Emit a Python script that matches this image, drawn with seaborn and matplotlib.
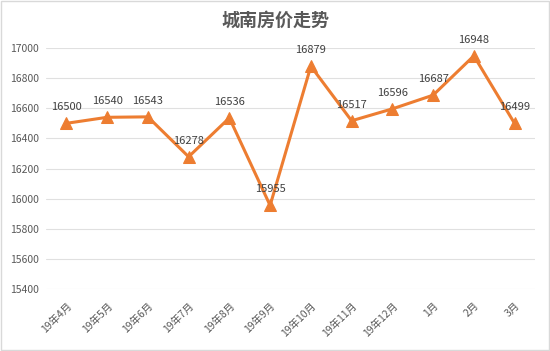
import matplotlib
matplotlib.use("Agg")
import matplotlib.pyplot as plt
import seaborn as sns
import pandas as pd
from matplotlib.patches import Rectangle

months = ["19年4月", "19年5月", "19年6月", "19年7月", "19年8月", "19年9月",
          "19年10月", "19年11月", "19年12月", "1月", "2月", "3月"]
prices = [16500, 16540, 16543, 16278, 16536, 15955, 16879, 16517, 16596, 16687, 16948, 16499]
y_ticks = [15400, 15600, 15800, 16000, 16200, 16400, 16600, 16800, 17000]

sns.set_theme(style="white")
plt.rcParams['font.family'] = ['Noto Sans CJK SC', 'DejaVu Sans']

df = pd.DataFrame({"month": months, "price": prices, "idx": range(len(months))})

fig = plt.figure(figsize=(5.5, 3.51), dpi=100)
ax = fig.add_axes([0.0836, 0.1766, 0.9727 - 0.0836, 0.8632 - 0.1766])

orange = "#ED7D31"
sns.lineplot(data=df, x="idx", y="price", ax=ax, color=orange, linewidth=2.2,
             marker="^", markersize=8, markeredgecolor=orange, markerfacecolor=orange)

ax.set_xlim(-0.5, len(months) - 0.5)
ax.set_ylim(15400, 17000)
ax.set_yticks(y_ticks)
ax.set_yticklabels([str(v) for v in y_ticks], fontsize=7.5, color="#595959")
ax.set_xticks(range(len(months)))
ax.set_xticklabels(months, rotation=45, ha="right", rotation_mode="anchor", fontsize=7.5, color="#595959")
ax.tick_params(axis="y", length=0, pad=5)
ax.tick_params(axis="x", length=0, pad=8)
ax.grid(axis="y", color="#E0E0E0", linewidth=0.8)
ax.set_axisbelow(True)
for s in ax.spines.values():
    s.set_visible(False)
ax.set_xlabel("")
ax.set_ylabel("")

for i, v in enumerate(prices):
    ax.annotate(str(v), (i, v), xytext=(0, 8), textcoords="offset points",
                ha="center", va="bottom", fontsize=8, color="#404040")

fig.text(0.5, 0.942, "城南房价走势", ha="center", va="center", fontsize=13,
         color="#595959", fontweight="bold")

fig.patches.append(Rectangle((0.002, 0.003), 0.996, 0.994, transform=fig.transFigure,
                             fill=False, edgecolor="#D9D9D9", linewidth=1))

fig.savefig("out.png", dpi=100)
